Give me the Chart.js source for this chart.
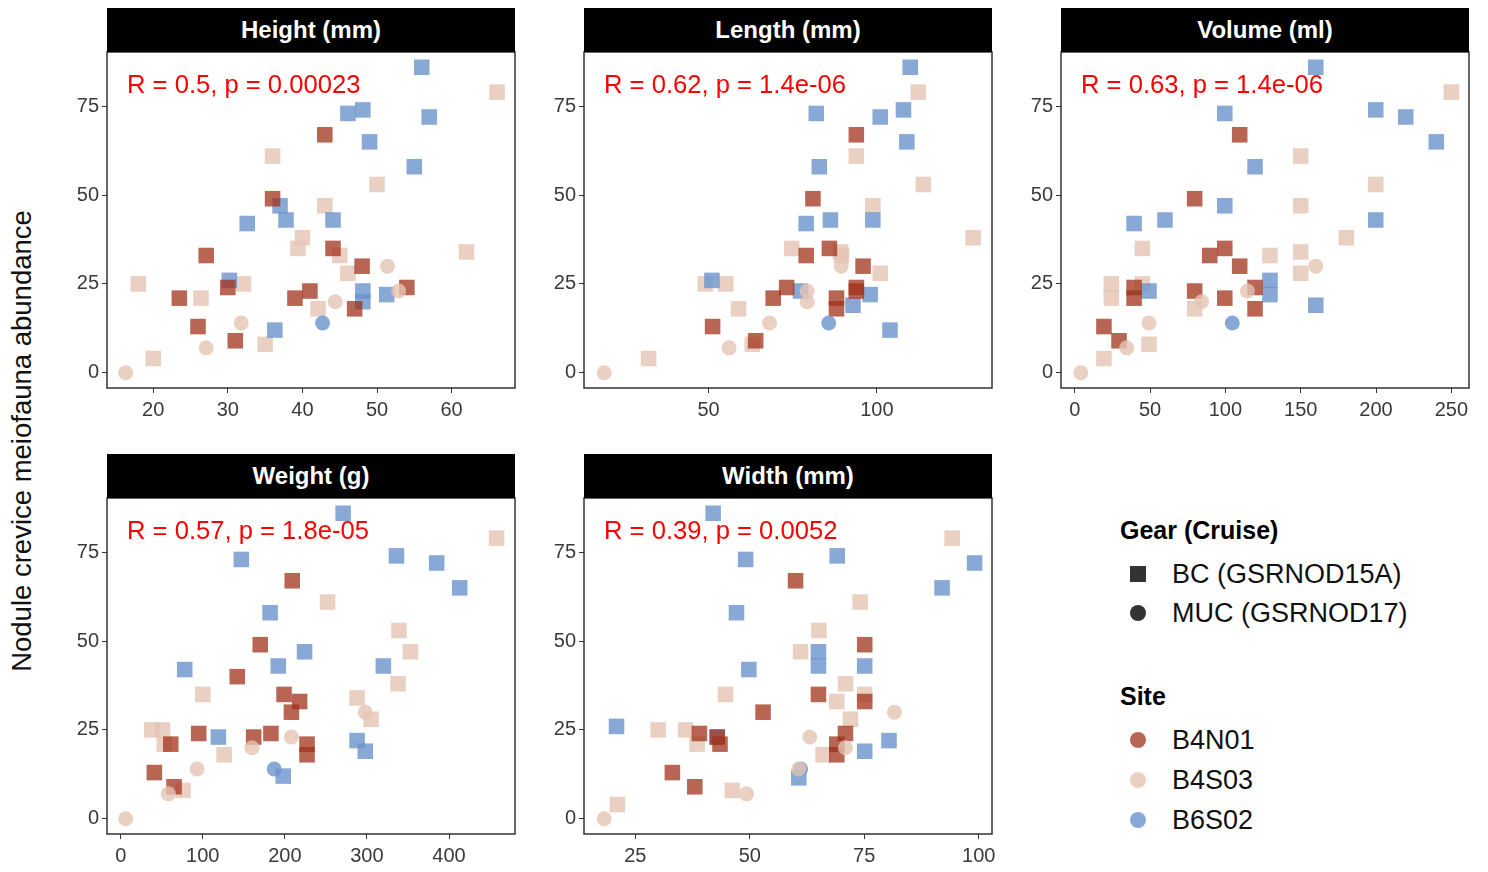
<!DOCTYPE html>
<html>
<head>
<meta charset="utf-8">
<script src="https://cdn.jsdelivr.net/npm/chart.js@4"></script>
<style>
  body { margin: 0; background: #fff; font-family: "Liberation Sans", Arial, sans-serif; }
  #page { position: relative; width: 1488px; height: 872px; overflow: hidden; }
  .strip { position: absolute; width: 408px; height: 44px; background: #000; color: #fff;
           font-weight: bold; font-size: 24px; text-align: center; line-height: 44px; }
  canvas { position: absolute; }
  #ytitle { position: absolute; left: -278px; top: 426px; width: 600px; height: 30px; line-height: 30px;
            text-align: center; font-size: 27.5px; color: #111; transform: rotate(-90deg); }
  .legt { position: absolute; left: 1120px; font-weight: bold; font-size: 25px; height: 40px; line-height: 40px; }
  .legi { position: absolute; left: 1130px; height: 40px; display: flex; align-items: center; font-size: 27px; color: #111; }
  .mk { width: 16px; height: 16px; margin-right: 26px; flex: none; }
</style>
</head>
<body>
<div id="page">
  <div id="ytitle">Nodule crevice meiofauna abundance</div>
  <div class="legt" style="top:510px">Gear (Cruise)</div>
  <div class="legi" style="top:554px"><span class="mk" style="background:#333"></span>BC (GSRNOD15A)</div>
  <div class="legi" style="top:593px"><span class="mk" style="background:#333;border-radius:50%"></span>MUC (GSRNOD17)</div>
  <div class="legt" style="top:676px">Site</div>
  <div class="legi" style="top:720px"><span class="mk" style="background:rgba(160,50,25,0.75);border-radius:50%"></span>B4N01</div>
  <div class="legi" style="top:760px"><span class="mk" style="background:rgba(229,196,180,0.8);border-radius:50%"></span>B4S03</div>
  <div class="legi" style="top:800px"><span class="mk" style="background:rgba(106,148,204,0.8);border-radius:50%"></span>B6S02</div>
</div>
<script>
// --- Data: [x, abundance] pairs per panel / site / gear ---

const yTicks = [0, 25, 50, 75];

// Height (mm)
const heightB6S02Sq = [[56,86],[46.1,73],[48.1,74],[57,72],[49,65],[55,58],[37,47],[37.8,43],[32.6,42],[44.1,43],[30.2,26],[48.1,23],[48.1,20],[51.3,22],[36.3,12]];
const heightB6S02Ci = [[42.7,14]];
const heightB4N01Sq = [[43,67],[36,49],[44.1,35],[27.1,33],[48,30],[30,24],[54,24],[23.5,21],[39,21],[41,23],[47,18],[26,13],[31,9]];
const heightB4S03Sq = [[66.1,79],[36,61],[50,53],[43,47],[40,38],[39.4,35],[62,34],[45,33],[46.1,28],[18,25],[32.1,25],[26.4,21],[42.1,18],[35,8],[20,4]];
const heightB4S03Ci = [[51.4,30],[52.9,23],[44.4,20],[31.8,14],[27.1,7],[16.3,0]];

// Length (mm)
const lengthB6S02Sq = [[109.9,86],[107.9,74],[101,72],[82,73],[108.9,65],[82.9,58],[86.2,43],[79,42],[98.8,43],[51,26],[98,22],[77.3,23],[92.9,19],[103.9,12]];
const lengthB6S02Ci = [[85.7,14]];
const lengthB4N01Sq = [[93.9,67],[81,49],[85.9,35],[79,33],[95.9,30],[93.9,24],[93.9,23],[73.2,24],[69.2,21],[88,21],[88,18],[51.2,13],[64,9]];
const lengthB4S03Sq = [[112.3,79],[93.9,61],[113.8,53],[98.8,47],[128.6,38],[74.7,35],[89.2,34],[89.5,33],[101,28],[49,25],[55.1,25],[58.9,18],[63,8],[32.2,4]];
const lengthB4S03Ci = [[89.4,30],[79.3,23],[79.3,20],[68.1,14],[56.1,7],[19,0]];

// Volume (ml)
const volumeB6S02Sq = [[160,86],[99.6,73],[199.8,74],[219.7,72],[240,65],[119.7,58],[99.6,47],[59.9,43],[39.4,42],[199.8,43],[129.6,26],[129.6,22],[49.3,23],[160,19]];
const volumeB6S02Ci = [[104.6,14]];
const volumeB4N01Sq = [[109.5,67],[79.6,49],[99.6,35],[89.6,33],[109.5,30],[39.4,24],[39.4,21],[79.6,23],[99.6,21],[119.7,24],[119.7,18],[19.4,13],[29.4,9]];
const volumeB4S03Sq = [[250,79],[150,61],[199.8,53],[150,47],[180.3,38],[44.9,35],[129.6,33],[150,34],[150,28],[24.3,25],[44.9,25],[24.3,21],[79.6,18],[49.3,8],[19.4,4]];
const volumeB4S03Ci = [[160,30],[114.6,23],[84.3,20],[49.3,14],[34.5,7],[4,0]];

// Weight (g)
const weightB6S02Sq = [[271,86],[147,73],[336,74],[385,72],[413,65],[182,58],[224,47],[192,43],[78,42],[320,43],[119,23],[288,22],[298,19],[198,12]];
const weightB6S02Ci = [[187,14]];
const weightB4N01Sq = [[209,67],[170,49],[142,40],[199,35],[218,33],[208,30],[95,24],[162,23],[183,24],[227,21],[227,18],[61,21],[41,13],[65,9]];
const weightB4S03Sq = [[458,79],[252,61],[339,53],[353,47],[338,38],[100,35],[288,34],[305,28],[38,25],[51,25],[53,21],[126,18],[76,8]];
const weightB4S03Ci = [[298,30],[208,23],[160,20],[93,14],[58,7],[6,0]];

// Width (mm)
const widthB6S02Sq = [[42,86],[49.1,73],[69.1,74],[99.1,72],[92,65],[47.1,58],[65,47],[65,43],[49.8,42],[75.1,43],[20.9,26],[80.4,22],[75.1,19],[60.7,11.5],[42.9,23]];
const widthB6S02Ci = [[61.1,14]];
const widthB4N01Sq = [[60,67],[75.1,49],[65,35],[75.1,33],[52.9,30],[39,24],[70.9,24],[43.5,21],[69,21],[69,18],[42.9,23],[33.1,13],[38,9]];
const widthB4S03Sq = [[94.2,79],[74.1,61],[65.1,53],[61.1,47],[70.9,38],[44.7,35],[69,33],[75.1,35],[72,28],[30,25],[36,25],[38.5,21],[66,18],[46.2,8],[21.1,4]];
const widthB4S03Ci = [[81.6,30],[63.1,23],[70.9,20],[60.7,14],[49.3,7],[18.2,0]];

// --- Panel setup ---
const panels = [
  { title: 'Height (mm)', stat: 'R = 0.5, p = 0.00023', col: 0, row: 0, xmin: 13.8, xmax: 68.5, xticks: [20,30,40,50,60],
    sets: [heightB4S03Sq, heightB6S02Sq, heightB4N01Sq, heightB6S02Ci, heightB4S03Ci] },
  { title: 'Length (mm)', stat: 'R = 0.62, p = 1.4e-06', col: 1, row: 0, xmin: 13, xmax: 134.2, xticks: [50,100],
    sets: [lengthB4S03Sq, lengthB6S02Sq, lengthB4N01Sq, lengthB6S02Ci, lengthB4S03Ci] },
  { title: 'Volume (ml)', stat: 'R = 0.63, p = 1.4e-06', col: 2, row: 0, xmin: -9.1, xmax: 261.7, xticks: [0,50,100,150,200,250],
    sets: [volumeB4S03Sq, volumeB6S02Sq, volumeB4N01Sq, volumeB6S02Ci, volumeB4S03Ci] },
  { title: 'Weight (g)', stat: 'R = 0.57, p = 1.8e-05', col: 0, row: 1, xmin: -16.7, xmax: 480.4, xticks: [0,100,200,300,400],
    sets: [weightB4S03Sq, weightB6S02Sq, weightB4N01Sq, weightB6S02Ci, weightB4S03Ci] },
  { title: 'Width (mm)', stat: 'R = 0.39, p = 0.0052', col: 1, row: 1, xmin: 13.8, xmax: 102.9, xticks: [25,50,75,100],
    sets: [widthB4S03Sq, widthB6S02Sq, widthB4N01Sq, widthB6S02Ci, widthB4S03Ci] }
];

// drawing order: first listed = bottom layer
const styles = [
  { color: 'rgba(229,196,180,0.8)', shape: 'rect', r: 11 },    // B4S03 BC
  { color: 'rgba(106,148,204,0.8)', shape: 'rect', r: 11 },    // B6S02 BC
  { color: 'rgba(160,50,25,0.75)', shape: 'rect', r: 11 },     // B4N01 BC
  { color: 'rgba(106,148,204,0.8)', shape: 'circle', r: 7.5 }, // B6S02 MUC
  { color: 'rgba(229,196,180,0.8)', shape: 'circle', r: 7.5 }  // B4S03 MUC
];

const colLeft = [107, 584, 1061];
const stripTop = [8, 454];
const boxTop = [52, 498];
const boxW = 408, boxH = 336;
const padL = 60, padT = 16, padR = 25, padB = 45;
const FONT = '"Liberation Sans", Arial, sans-serif';

// frame + correlation label
const panelDecor = {
  id: 'panelDecor',
  afterDraw(chart, args, opts) {
    const { ctx, chartArea: a } = chart;
    ctx.save();
    ctx.fillStyle = '#ff0000';
    ctx.font = '25.6px ' + FONT;
    ctx.textBaseline = 'alphabetic';
    ctx.fillText(opts.stat, a.left + 20, a.top + 41);
    ctx.strokeStyle = '#333';
    ctx.lineWidth = 1.5;
    ctx.strokeRect(a.left, a.top, a.right - a.left, a.bottom - a.top);
    ctx.restore();
  }
};

const page = document.getElementById('page');

panels.forEach(p => {
  const left = colLeft[p.col];

  const strip = document.createElement('div');
  strip.className = 'strip';
  strip.style.left = left + 'px';
  strip.style.top = stripTop[p.row] + 'px';
  strip.textContent = p.title;

  const cv = document.createElement('canvas');
  cv.width = padL + boxW + padR;
  cv.height = padT + boxH + padB;
  cv.style.left = (left - padL) + 'px';
  cv.style.top = (boxTop[p.row] - padT) + 'px';
  page.appendChild(cv);
  page.appendChild(strip);

  const datasets = p.sets.map((pts, i) => ({
    data: pts.map(d => ({ x: d[0], y: d[1] })),
    backgroundColor: styles[i].color,
    borderWidth: 0,
    pointStyle: styles[i].shape,
    pointRadius: styles[i].r,
    order: p.sets.length - i
  }));

  new Chart(cv.getContext('2d'), {
    type: 'scatter',
    data: { datasets },
    options: {
      responsive: false,
      animation: false,
      events: [],
      layout: { padding: { top: padT, right: padR, left: 0, bottom: 0 } },
      plugins: {
        legend: { display: false },
        tooltip: { enabled: false },
        panelDecor: { stat: p.stat }
      },
      scales: {
        x: {
          type: 'linear', min: p.xmin, max: p.xmax,
          afterBuildTicks: s => { s.ticks = p.xticks.map(v => ({ value: v })); },
          afterFit: s => { s.height = padB; },
          grid: { drawOnChartArea: false, color: '#333', tickLength: 5 },
          border: { display: false },
          ticks: { color: '#3a3a3a', font: { size: 20, family: FONT }, padding: 5, maxRotation: 0 }
        },
        y: {
          min: -4.3, max: 90.3,
          afterBuildTicks: s => { s.ticks = yTicks.map(v => ({ value: v })); },
          afterFit: s => { s.width = padL; },
          grid: { drawOnChartArea: false, color: '#333', tickLength: 5 },
          border: { display: false },
          ticks: { color: '#3a3a3a', font: { size: 20, family: FONT }, padding: 3 }
        }
      }
    },
    plugins: [panelDecor]
  });
});
</script>
</body>
</html>
